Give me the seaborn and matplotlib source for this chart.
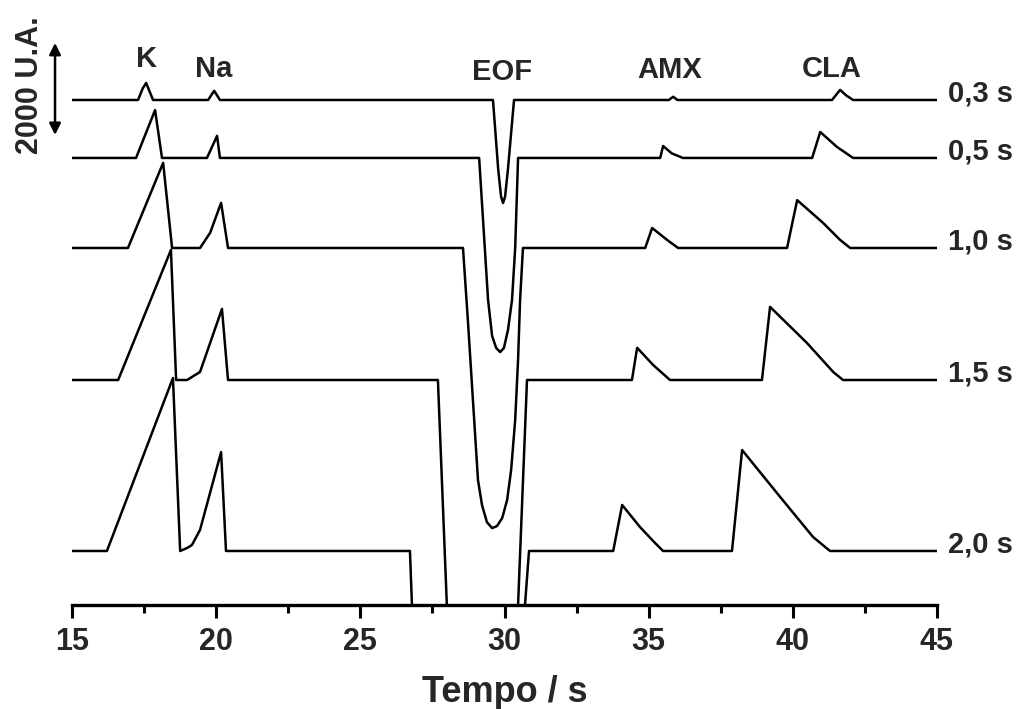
import matplotlib
matplotlib.use("Agg")
import matplotlib.pyplot as plt
import seaborn as sns
import pandas as pd

# ---------------- data (signal in U.A., relative to each trace's baseline) ----------------
trace_names = ["0,3 s", "0,5 s", "1,0 s", "1,5 s", "2,0 s"]
trace_offsets = [10978, 9718, 7761, 4891, 1174]

t_03 = [15, 17.29, 17.45, 17.57, 17.68, 17.81, 19.72, 19.93, 20.13,
        29.60, 29.78, 29.88, 29.95, 30.02, 30.12, 30.33,
        35.70, 35.85, 36.00, 41.36, 41.64, 41.85, 42.09, 45]
s_03 = [0, 0, 250, 370, 200, 0, 0, 200, 0,
        0, -1500, -2100, -2240, -2100, -1500, 0,
        0, 70, 0, 0, 220, 100, 0, 0]

t_05 = [15, 17.22, 17.88, 18.12, 19.68, 20.03, 20.13,
        29.12, 29.43, 29.57, 29.71, 29.85, 29.98, 30.12, 30.26, 30.37, 30.47,
        35.40, 35.50, 35.80, 36.19, 40.67, 40.95, 41.53, 42.09, 45]
s_05 = [0, 0, 1040, 0, 0, 480, 0,
        0, -3090, -3870, -4130, -4220, -4130, -3740, -3090, -1960, 0,
        0, 260, 100, 0, 0, 565, 240, 0, 0]

t_10 = [15, 16.94, 18.16, 18.47, 19.44, 19.79, 20.17, 20.41,
        28.56, 28.74, 29.08, 29.22, 29.39, 29.57, 29.74, 29.92, 30.09, 30.23, 30.37,
        30.47, 30.54, 30.64,
        34.88, 35.12, 35.64, 36.02, 39.80, 40.15, 41.05, 41.64, 41.99, 45]
s_10 = [0, 0, 1850, 0, 0, 330, 980, 0,
        0, -1675, -5045, -5590, -5960, -6090, -6045, -5870, -5480, -4825, -3740,
        -2435, -1130, 0,
        0, 435, 175, 0, 0, 1040, 545, 175, 0, 0]

t_15 = [15, 16.60, 18.43, 18.61, 18.99, 19.44, 20.20, 20.41, 27.69, 28.00, 28.30, 29.40,
        30.20, 30.47, 30.78, 34.42, 34.60, 35.15, 35.74, 38.93, 39.21, 40.49, 41.40,
        41.74, 45]
s_15 = [0, 0, 2826, 0, 0, 175, 1545, 0, 0, -4890, -7500, -9000,
        -7500, -4890, 0, 0, 700, 330, 0, 0, 1590, 805, 175,
        0, 0]

t_20 = [15, 16.21, 18.50, 18.75, 18.99, 19.16, 19.44, 20.17, 20.34, 26.72, 26.79, 27.00,
        29.30, 30.60, 30.71, 30.85, 33.77, 34.08, 34.70, 35.22, 35.50, 37.89, 38.24,
        39.56, 40.70, 41.29, 45]
s_20 = [0, 0, 3760, 0, 65, 130, 460, 2150, 0, 0, -1174, -5000,
        -10000, -5000, -1174, 0, 0, 1000, 520, 175, 0, 0, 2195,
        1175, 305, 0, 0]

peak_labels = ["K", "Na", "EOF", "AMX", "CLA"]
peak_label_x = [17.60, 19.93, 29.92, 35.74, 41.36]
peak_label_y = [11696, 11479, 11413, 11457, 11479]

x_ticks = [15, 20, 25, 30, 35, 40, 45]
scale_bar = 2000

# ---------------- build table ----------------
series_t = [t_03, t_05, t_10, t_15, t_20]
series_s = [s_03, s_05, s_10, s_15, s_20]
rows = []
for name, off, ts, ss in zip(trace_names, trace_offsets, series_t, series_s):
    for i, (t, s) in enumerate(zip(ts, ss)):
        rows.append({"trace": name, "order": i, "t": t, "signal": off + s})
df = pd.DataFrame(rows)

# ---------------- plot ----------------
sns.set_theme(style="white")
plt.rcParams["font.family"] = ["Liberation Sans", "DejaVu Sans"]
plt.rcParams["font.weight"] = "bold"

fig = plt.figure(figsize=(10.35, 7.09), dpi=100)
ax = fig.add_axes([0.0696, 0.1467, 0.8357, 0.8251])

sns.lineplot(data=df, x="t", y="signal", hue="trace", palette=["black"] * 5,
             estimator=None, sort=False, legend=False, linewidth=1.8, ax=ax)

ax.set_xlim(15, 45)
ax.set_ylim(0, 12717)
ax.set_yticks([])
ax.set_ylabel("")
ax.set_xticks(x_ticks)
ax.set_xticks([17.5, 22.5, 27.5, 32.5, 37.5, 42.5], minor=True)
ax.set_xticklabels([str(v) for v in x_ticks], fontsize=22, fontweight="bold")
ax.tick_params(axis="x", which="major", direction="out", length=9.5, width=2.2,
               color="black", pad=6, bottom=True)
ax.tick_params(axis="x", which="minor", direction="out", length=5.5, width=2.2,
               color="black", bottom=True)
ax.set_xlabel("Tempo / s", fontsize=26, fontweight="bold", labelpad=13)

for side in ["left", "top", "right"]:
    ax.spines[side].set_visible(False)
ax.spines["bottom"].set_linewidth(2.4)
ax.spines["bottom"].set_color("black")

# trace labels on right
for name, off in zip(trace_names, trace_offsets):
    ax.text(45.39, off - 40, name, ha="left", va="baseline", fontsize=21,
            fontweight="bold", clip_on=False)

# peak labels
for lab, x, y in zip(peak_labels, peak_label_x, peak_label_y):
    ax.text(x, y, lab, ha="center", va="baseline", fontsize=21, fontweight="bold")

# scale bar
ax.annotate("", xy=(14.41, 12218), xytext=(14.41, 12218 - scale_bar),
            arrowprops=dict(arrowstyle="<|-|>", color="black", lw=1.8,
                            mutation_scale=17, shrinkA=0, shrinkB=0),
            annotation_clip=False)
ax.text(13.54, 11305, f"{scale_bar} U.A.", rotation=90, ha="center", va="center",
        fontsize=22, fontweight="bold", clip_on=False)

fig.savefig("out.png", dpi=100)
